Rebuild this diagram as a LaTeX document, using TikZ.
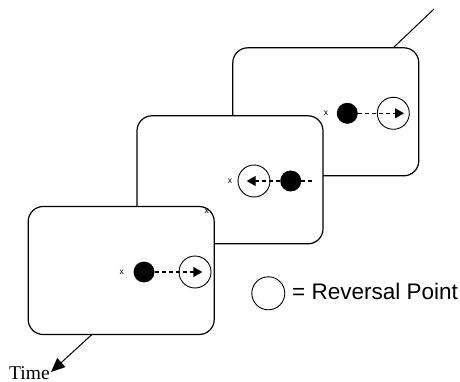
\documentclass[tikz,border=0pt]{standalone}
\usepackage{fontspec}
\setmainfont{Liberation Serif}
\setsansfont{Liberation Sans}
\usetikzlibrary{arrows.meta}
\begin{document}
\begin{tikzpicture}[x=1pt,y=-1pt,
  frame/.style={draw,line width=1.2pt,fill=white,rounded corners=15pt,minimum width=186pt,minimum height=128pt,inner sep=0pt},
  ball/.style={circle,fill=black,minimum size=21pt,inner sep=0pt},
  rev/.style={circle,draw,line width=0.9pt,fill=white,minimum size=32pt,inner sep=0pt},
  fix/.style={font=\sffamily\fontsize{8.5}{8.5}\selectfont,inner sep=0pt},
  motion/.style={dashed,dash pattern=on 4pt off 3pt,line width=1.1pt,-{Triangle[length=9pt,width=10pt]}},
  trail/.style={dashed,dash pattern=on 4pt off 3pt,line width=1.1pt},
  axis/.style={line width=1pt}]
\useasboundingbox (0,0) rectangle (460,382);
% time axis (behind frames)
\coordinate (top) at (434,9);
\coordinate (mid) at (91.7,334.7);
\coordinate (tip) at (51,372);
\draw[axis] (top) -- (mid);
% frames
\node[frame] (b3) at (325.8,111.8) {};
\node[frame] (b2) at (230,179.8) {};
\node[frame] (b1) at (121.2,270.5) {};
% frame 3 contents
\node[fix] (x3) at (326,113.3) {x};
\node[ball] (d3) at (347.3,113.3) {};
\node[rev] (c3) at (393.3,113.3) {};
\coordinate (t3) at (404,113.3);
\draw[motion] (d3) -- (t3);
% frame 2 contents
\node[fix] (x2) at (230,181) {x};
\node[rev] (c2) at (254,181) {};
\node[ball] (d2) at (290.7,181) {};
\coordinate (t2) at (246.7,181);
\coordinate (e2) at (313,181);
\draw[motion] (d2) -- (t2);
\draw[trail] (d2) -- (e2);
% frame 1 contents
\node[fix] (x1) at (121.7,272) {x};
\node[ball] (d1) at (144,272) {};
\node[rev] (c1) at (195,272) {};
\coordinate (t1) at (202.3,272);
\draw[motion] (d1) -- (t1);
\node[fix] (xc) at (206.7,211) {x};
% time arrow
\node[inner sep=0pt,anchor=base west,font=\fontsize{19.5}{19.5}\selectfont] (time) at (9,379) {Time};
\draw[axis,-{Triangle[length=14pt,width=12pt]}] (mid) -- (tip);
% legend
\node[rev,minimum size=33pt] (leg) at (268.3,293.3) {};
\node[anchor=west,inner sep=0pt,font=\sffamily\fontsize{22.5}{22.5}\selectfont] (legtxt) at (292,291.5) {= Reversal Point};
\end{tikzpicture}
\end{document}
